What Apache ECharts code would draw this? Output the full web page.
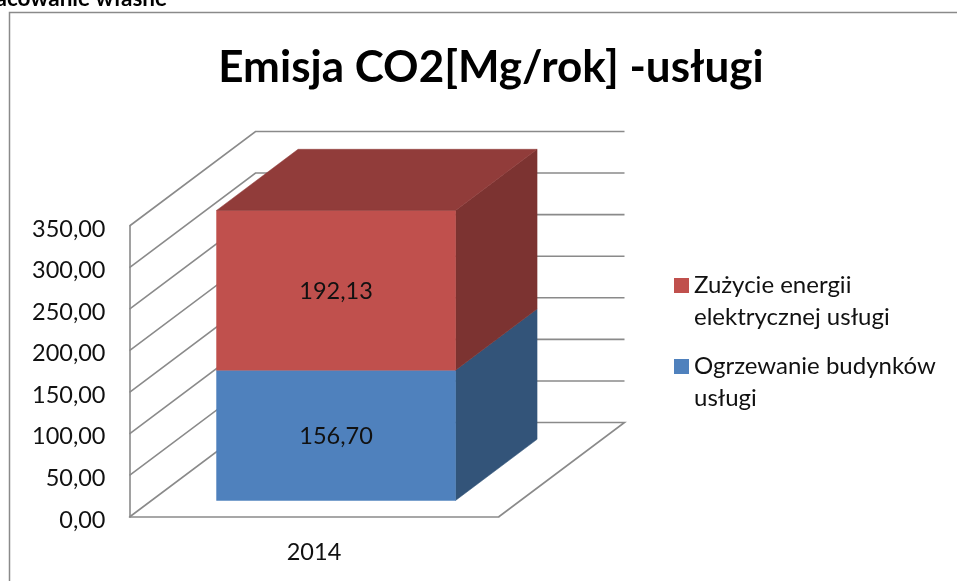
<!DOCTYPE html>
<html>
<head>
<meta charset="utf-8">
<style>html,body{margin:0;padding:0;background:#fff}#c{width:957px;height:581px}</style>
<script src="https://cdn.jsdelivr.net/npm/echarts@6/dist/echarts.min.js"></script>
</head>
<body>
<div id="c"></div>
<script>
const categories = ['2014'];
const yTicks = [0, 50, 100, 150, 200, 250, 300, 350];
const ogrzewanie = [156.70];
const zuzycie = [192.13];
const nameBlue = 'Ogrzewanie budynków\nusługi';
const nameRed = 'Zużycie energii\nelektrycznej usługi';
const titleText = 'Emisja CO2[Mg/rok] -usługi';
const sourceText = 'Opracowanie własne';

const FONT = 'Lato';
const DX = 126, DY = -94.5;          // oblique depth of the plot box
const NEAR = 0.175, FAR = 0.822;     // bar depth range inside the box
const BAR_FRAC = 239 / 369;
const fmt = v => v.toFixed(2).replace('.', ',');

function wall(params, api) {
  const cs = params.coordSys;
  const y = api.coord([0, api.value(1)])[1];
  const isFloor = api.value(1) === 0;
  const pts = isFloor
    ? [[cs.x, y], [cs.x + DX, y + DY], [cs.x + cs.width + DX, y + DY], [cs.x + cs.width, y]]
    : [[cs.x, y], [cs.x + DX, y + DY], [cs.x + cs.width + DX, y + DY]];
  return {
    type: 'polyline', silent: true,
    shape: { points: pts },
    style: { stroke: '#8a8a8a', lineWidth: 1.6, fill: null }
  };
}

function box(colors, showTop) {
  return function (params, api) {
    const c0 = api.coord([api.value(0), api.value(1)]);
    const c1 = api.coord([api.value(0), api.value(2)]);
    const w = api.size([1, 0])[0] * BAR_FRAC;
    const xl = c0[0] - w / 2 + NEAR * DX, xr = c0[0] + w / 2 + NEAR * DX;
    const yb = c0[1] + NEAR * DY, yt = c1[1] + NEAR * DY;
    const ox = (FAR - NEAR) * DX, oy = (FAR - NEAR) * DY;
    const poly = (pts, fill) => ({ type: 'polygon', silent: true, shape: { points: pts }, style: { fill: fill, stroke: fill, lineWidth: 0.5 } });
    const children = [
      poly([[xr, yb], [xr + ox, yb + oy], [xr + ox, yt + oy], [xr, yt]], colors.side),
      poly([[xl, yb], [xr, yb], [xr, yt], [xl, yt]], colors.front)
    ];
    if (showTop) children.push(poly([[xl, yt], [xr, yt], [xr + ox, yt + oy], [xl + ox, yt + oy]], colors.top));
    children.push({
      type: 'text', silent: true,
      style: {
        x: (xl + xr) / 2, y: (yb + yt) / 2 + 1,
        text: fmt(api.value(2) - api.value(1)),
        align: 'center', verticalAlign: 'middle',
        font: '23.5px ' + FONT, fill: '#111'
      }
    });
    return { type: 'group', children: children };
  };
}

const axisLine = { show: true, lineStyle: { color: '#8a8a8a', width: 1.6 } };

const option = {
  animation: false,
  backgroundColor: '#fff',
  textStyle: { fontFamily: FONT, color: '#111' },
  title: {
    text: titleText, left: 486, top: 41, textAlign: 'center',
    textStyle: { fontFamily: FONT, fontWeight: 'bold', fontSize: 44, color: '#000' }
  },
  graphic: [
    { type: 'rect', silent: true, z: -1, shape: { x: 9.5, y: 12.5, width: 1200, height: 1200 }, style: { fill: null, stroke: '#8a8a8a', lineWidth: 1.5 } },
    { type: 'text', silent: true, style: { x: 167, y: 10.5, text: sourceText, align: 'right', verticalAlign: 'bottom', font: 'bold 22.5px ' + FONT, fill: '#000' } }
  ],
  legend: {
    left: 674, top: 237.5, orient: 'vertical', padding: 0,
    data: [nameRed, nameBlue],
    icon: 'rect', itemWidth: 15, itemHeight: 15, itemGap: -15, itemTextGap: 7,
    selectedMode: false,
    formatter: name => '\n' + name,
    textStyle: { fontFamily: FONT, fontSize: 24, color: '#111', lineHeight: 32 }
  },
  grid: { left: 129.5, right: 458.5, top: 226, bottom: 64, containLabel: false },
  xAxis: {
    type: 'category', data: categories,
    axisLine: axisLine, axisTick: { show: false }, splitLine: { show: false },
    axisLabel: { margin: 23, fontSize: 23.5, fontFamily: FONT, color: '#111' }
  },
  yAxis: {
    type: 'value', min: 0, max: 350, interval: 50,
    axisLine: axisLine, axisTick: { show: false }, splitLine: { show: false },
    axisLabel: { margin: 24, fontSize: 23.5, fontFamily: FONT, color: '#111', formatter: fmt, verticalAlign: 'top', lineHeight: 6 }
  },
  series: [
    { type: 'custom', coordinateSystem: 'cartesian2d', z: 1, silent: true, encode: { x: 0, y: 1 },
      data: yTicks.map(t => [categories[0], t]), renderItem: wall },
    { type: 'custom', name: nameBlue, z: 2, silent: true, encode: { x: 0, y: [1, 2] },
      itemStyle: { color: '#4F81BD' },
      data: categories.map((c, i) => [c, 0, ogrzewanie[i]]),
      renderItem: box({ front: '#4F81BD', side: '#335479', top: '#3f6797' }, false) },
    { type: 'custom', name: nameRed, z: 3, silent: true, encode: { x: 0, y: [1, 2] },
      itemStyle: { color: '#C0504D' },
      data: categories.map((c, i) => [c, ogrzewanie[i], ogrzewanie[i] + zuzycie[i]]),
      renderItem: box({ front: '#C0504D', side: '#7C3331', top: '#913C3A' }, true) }
  ]
};
echarts.init(document.getElementById('c'), null, { renderer: 'canvas' }).setOption(option);
</script>
</body>
</html>
